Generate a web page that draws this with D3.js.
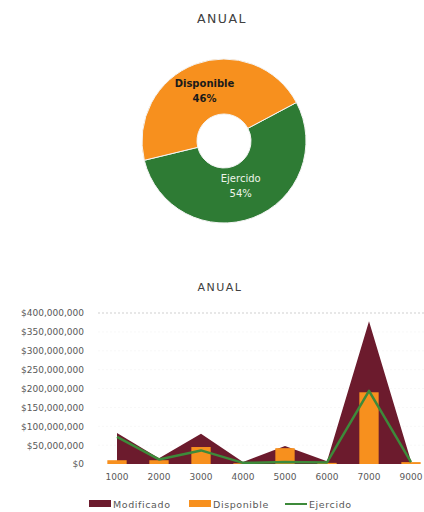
<!DOCTYPE html>
<html>
<head>
<meta charset="utf-8">
<script src="https://cdn.jsdelivr.net/npm/d3@7/dist/d3.min.js"></script>
<style>
  html, body { margin: 0; padding: 0; background: #fff; }
  svg { display: block; }
  text { font-family: "DejaVu Sans", sans-serif; }
</style>
</head>
<body>
<svg id="chart" width="424" height="512"></svg>
<script>
// ---------- DATA ----------
const pieLabels = ["Ejercido", "Disponible"];
const pieValues = [54, 46];

const categories = ["1000", "2000", "3000", "4000", "5000", "6000", "7000", "9000"];
const modificado = [82e6, 15e6, 80e6, 5e6, 48e6, 7e6, 378e6, 7e6];
const disponible = [10e6, 10e6, 45e6, 2e6, 42e6, 3e6, 190e6, 5e6];
const ejercido   = [72e6, 12e6, 36e6, 3e6, 5e6, 4e6, 194e6, 5e6];
const yTicks = [0, 50e6, 100e6, 150e6, 200e6, 250e6, 300e6, 350e6, 400e6];
const seriesNames = ["Modificado", "Disponible", "Ejercido"];

// ---------- STYLE ----------
const C = { maroon: "#6c1b2d", orange: "#f7901e", green: "#2e7b34", line: "#3d8a3a", text: "#595959", title: "#404040" };

const svg = d3.select("#chart");

// ---------- DONUT ----------
svg.append("text").attr("x", 222).attr("y", 23).attr("text-anchor", "middle")
  .attr("font-size", 12.5).attr("letter-spacing", 1.5).attr("fill", C.title).text("ANUAL");

const cx = 224, cy = 141, rOuter = 82, rInner = 27;
const start = 62 * Math.PI / 180;
const pie = d3.pie().sort(null).startAngle(start).endAngle(start + 2 * Math.PI);
const arcs = pie(pieValues);
const arc = d3.arc().innerRadius(rInner).outerRadius(rOuter);
const pieColors = [C.green, C.orange];
const g1 = svg.append("g").attr("transform", `translate(${cx},${cy})`);
g1.selectAll("path").data(arcs).join("path")
  .attr("d", arc).attr("fill", (d, i) => pieColors[i])
  .attr("stroke", "#f4f4f4").attr("stroke-width", 1);

const labelR = [47, 55];
const labelFill = ["#eef5ea", "#1a1a1a"];
arcs.forEach((d, i) => {
  const a = (d.startAngle + d.endAngle) / 2;
  const x = Math.sin(a) * labelR[i], y = -Math.cos(a) * labelR[i];
  const t = g1.append("text").attr("text-anchor", "middle").attr("font-size", 10)
    .attr("fill", labelFill[i]).attr("font-weight", i === 1 ? "bold" : "normal");
  t.append("tspan").attr("x", x).attr("y", y - 3).text(pieLabels[i]);
  t.append("tspan").attr("x", x).attr("y", y + 12).text(Math.round(d.data) + "%");
});

// ---------- COMBO CHART ----------
svg.append("text").attr("x", 220).attr("y", 291).attr("text-anchor", "middle")
  .attr("font-size", 11).attr("letter-spacing", 1.5).attr("fill", C.title).text("ANUAL");

const x = d3.scaleBand().domain(categories).range([96, 432]).paddingInner(0).paddingOuter(0);
const y = d3.scaleLinear().domain([0, 400e6]).range([464, 313]);
const xc = c => x(c) + x.bandwidth() / 2;

// gridlines
svg.append("g").selectAll("line").data(yTicks.filter(v => v > 0)).join("line")
  .attr("x1", 98).attr("x2", 424).attr("y1", d => y(d)).attr("y2", d => y(d))
  .attr("stroke", d => d === 400e6 ? "#cfcfcf" : "#f8f8f8")
  .attr("stroke-dasharray", "2,2").attr("stroke-width", 1);

// y axis labels
const fmt = v => "$" + d3.format(",")(v);
const yAxis = d3.axisLeft(y).tickValues(yTicks).tickFormat(fmt).tickSize(0).tickPadding(0);
const ya = svg.append("g").attr("transform", "translate(84,0)").call(yAxis);
ya.select(".domain").remove();
ya.selectAll("text").attr("font-size", 9).attr("fill", C.text).attr("font-family", "DejaVu Sans");

// x axis labels
const xAxis = d3.axisBottom(x).tickSize(0).tickPadding(0);
const xa = svg.append("g").attr("transform", "translate(0,474)").call(xAxis);
xa.select(".domain").remove();
xa.selectAll("text").attr("font-size", 9).attr("fill", C.text).attr("font-family", "DejaVu Sans");

// area (Modificado)
const area = d3.area().x((d, i) => xc(categories[i])).y0(y(0)).y1(d => y(d));
svg.append("path").datum(modificado).attr("d", area).attr("fill", C.maroon);

// bars (Disponible)
const bw = x.bandwidth() * 0.46;
svg.append("g").selectAll("rect").data(disponible).join("rect")
  .attr("x", (d, i) => xc(categories[i]) - bw / 2)
  .attr("width", bw)
  .attr("y", d => y(d))
  .attr("height", d => y(0) - y(d))
  .attr("fill", C.orange);

// line (Ejercido)
const line = d3.line().x((d, i) => xc(categories[i])).y(d => y(d));
svg.append("path").datum(ejercido).attr("d", line).attr("fill", "none")
  .attr("stroke", C.line).attr("stroke-width", 2.5).attr("stroke-linejoin", "round");

// legend
const legendX = [89, 189, 285];
const legY = 504;
const lg = svg.append("g");
seriesNames.forEach((name, i) => {
  if (i < 2) {
    lg.append("rect").attr("x", legendX[i]).attr("y", legY - 4).attr("width", 22).attr("height", 7)
      .attr("fill", i === 0 ? C.maroon : C.orange);
  } else {
    lg.append("line").attr("x1", legendX[i]).attr("x2", legendX[i] + 22)
      .attr("y1", legY).attr("y2", legY).attr("stroke", C.line).attr("stroke-width", 2);
  }
  lg.append("text").attr("x", legendX[i] + 24).attr("y", legY + 3.5)
    .attr("font-size", 9.5).attr("letter-spacing", 0.6).attr("fill", C.text).text(name);
});
</script>
</body>
</html>
